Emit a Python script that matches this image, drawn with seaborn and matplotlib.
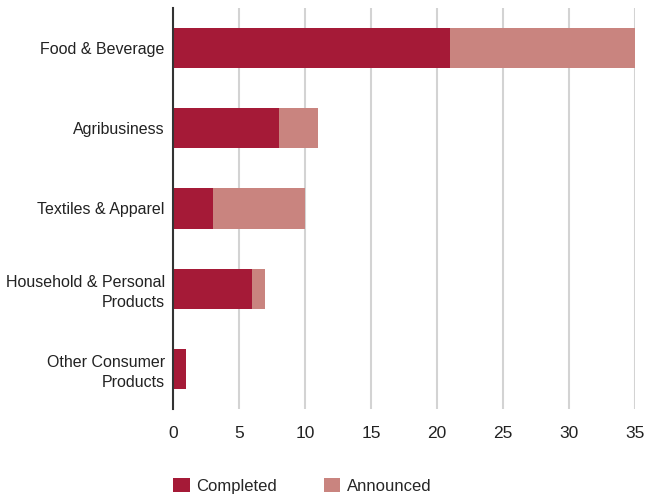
import matplotlib
matplotlib.use("Agg")
import matplotlib.pyplot as plt
import seaborn as sns
import pandas as pd
from matplotlib.patches import Patch

categories = ["Food & Beverage", "Agribusiness", "Textiles & Apparel",
              "Household & Personal\nProducts", "Other Consumer\nProducts"]
completed = [21, 8, 3, 6, 1]
announced = [14, 3, 7, 1, 0]
x_ticks = [0, 5, 10, 15, 20, 25, 30, 35]

c_completed = "#A51A37"
c_announced = "#C9847F"

df = pd.DataFrame({"category": categories,
                   "completed": completed,
                   "announced": announced})
df["total"] = df["completed"] + df["announced"]

sns.set_style("white")
plt.rcParams["font.family"] = ["Liberation Sans", "DejaVu Sans"]

fig = plt.figure(figsize=(6.46, 4.94), dpi=100)
ax = fig.add_axes([0.2678, 0.172, 0.7152, 0.812])

sns.barplot(data=df, x="total", y="category", color=c_announced,
            orient="h", width=0.5, ax=ax, saturation=1, linewidth=0)
sns.barplot(data=df, x="completed", y="category", color=c_completed,
            orient="h", width=0.5, ax=ax, saturation=1, linewidth=0)

ax.set_xlim(0, 35)
ax.set_ylim(4.5, -0.5)
ax.set_xticks(x_ticks)
ax.set_xticklabels([str(t) for t in x_ticks], fontsize=12.5, color="#222222")
ax.tick_params(axis="y", labelsize=11.5, colors="#222222", length=0, pad=6)
ax.tick_params(axis="x", length=0, pad=12)
ax.set_xlabel("")
ax.set_ylabel("")
for lbl in ax.get_yticklabels():
    lbl.set_multialignment("right")
    lbl.set_linespacing(1.4)

ax.xaxis.grid(True, color="#d3d3d3", linewidth=1.5)
ax.set_axisbelow(True)
for s in ["top", "right", "bottom"]:
    ax.spines[s].set_visible(False)
ax.spines["left"].set_color("#333333")
ax.spines["left"].set_linewidth(1.5)
ax.spines["left"].set_zorder(5)

handles = [Patch(facecolor=c_completed, edgecolor="none", label="Completed"),
           Patch(facecolor=c_announced, edgecolor="none", label="Announced")]
fig.legend(handles=handles, loc="center left", bbox_to_anchor=(0.2446, 0.017),
           ncol=2, frameon=False, handlelength=1.0, handleheight=1.0,
           columnspacing=2.8, handletextpad=0.4,
           prop={"size": 12})

fig.savefig("out.png", dpi=100)
